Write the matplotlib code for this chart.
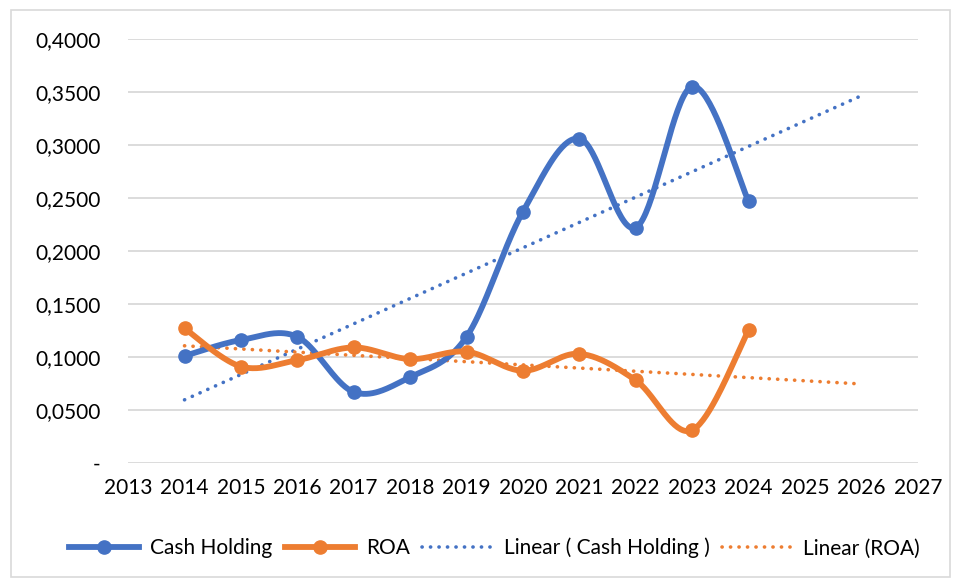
import numpy as np
import matplotlib.pyplot as plt
from matplotlib.lines import Line2D
from matplotlib.patches import Rectangle
from matplotlib.ticker import FuncFormatter

# dados
anos = [2014, 2015, 2016, 2017, 2018, 2019, 2020, 2021, 2022, 2023, 2024]
cash_holding = [0.101, 0.116, 0.119, 0.067, 0.081, 0.119, 0.237, 0.306, 0.222, 0.355, 0.247]
roa = [0.127, 0.091, 0.097, 0.109, 0.098, 0.105, 0.087, 0.103, 0.078, 0.031, 0.125]
ticks_x = list(range(2013, 2028))
ticks_y = [0, 0.05, 0.1, 0.15, 0.2, 0.25, 0.3, 0.35, 0.4]

AZUL = "#4472C4"
LARANJA = "#ED7D31"
FONTE = "Lato"
PONTILHADO = (0, (0.05, 2.3))


def suavizar(x, y, n=40):
    """Curva suavizada estilo Excel (Bezier / Catmull-Rom)."""
    x = np.asarray(x, float)
    y = np.asarray(y, float)
    px = np.concatenate([[x[0]], x, [x[-1]]])
    py = np.concatenate([[y[0]], y, [y[-1]]])
    xs, ys = [], []
    t = np.linspace(0, 1, n)
    for i in range(1, len(px) - 2):
        p0 = np.array([px[i], py[i]])
        p3 = np.array([px[i + 1], py[i + 1]])
        p1 = p0 + (np.array([px[i + 1], py[i + 1]]) - np.array([px[i - 1], py[i - 1]])) / 6
        p2 = p3 - (np.array([px[i + 2], py[i + 2]]) - np.array([px[i], py[i]])) / 6
        b = (np.outer((1 - t) ** 3, p0) + np.outer(3 * (1 - t) ** 2 * t, p1)
             + np.outer(3 * (1 - t) * t ** 2, p2) + np.outer(t ** 3, p3))
        xs.extend(b[:, 0])
        ys.extend(b[:, 1])
    return np.array(xs), np.array(ys)


def tendencia(x, y, extra=2):
    a, b = np.polyfit(x, y, 1)
    xt = np.array([x[0], x[-1] + extra])
    return xt, a * xt + b


plt.rcParams["font.family"] = [FONTE, "DejaVu Sans"]

fig = plt.figure(figsize=(9.56, 5.8), dpi=100)
ax = fig.add_axes([0.134, 0.2017, 0.826, 0.7313])

fig.patches.append(Rectangle((0.011, 0.005), 0.983, 0.977, transform=fig.transFigure,
                             fill=False, edgecolor="#D9D9D9", linewidth=1.2))

for serie, cor in [(cash_holding, AZUL), (roa, LARANJA)]:
    xs, ys = suavizar(anos, serie)
    ax.plot(xs, ys, color=cor, linewidth=4.2, solid_capstyle="round", zorder=3)
    ax.plot(anos, serie, "o", color=cor, markersize=9.5, zorder=4)
    xt, yt = tendencia(anos, serie)
    ax.plot(xt, yt, color=cor, linewidth=2.6, linestyle=PONTILHADO,
            dash_capstyle="round", zorder=2)

ax.set_xlim(2013, 2027)
ax.set_ylim(0, 0.4)
ax.set_xticks(ticks_x)
ax.set_yticks(ticks_y)
ax.yaxis.set_major_formatter(FuncFormatter(
    lambda v, p: "-" if abs(v) < 1e-9 else f"{v:.4f}".replace(".", ",")))
ax.grid(axis="y", color="#D9D9D9", linewidth=1.3)
ax.set_axisbelow(True)
for lado in ["top", "right", "left", "bottom"]:
    ax.spines[lado].set_visible(False)
ax.tick_params(length=0, labelsize=15, colors="black")
ax.tick_params(axis="y", pad=20)
ax.tick_params(axis="x", pad=11)

handles = [
    Line2D([], [], color=AZUL, linewidth=4.2, marker="o", markersize=9.5),
    Line2D([], [], color=LARANJA, linewidth=4.2, marker="o", markersize=9.5),
    Line2D([], [], color=AZUL, linewidth=2.6, linestyle=PONTILHADO, dash_capstyle="round"),
    Line2D([], [], color=LARANJA, linewidth=2.6, linestyle=PONTILHADO, dash_capstyle="round"),
]
rotulos = ["Cash Holding", "ROA", "Linear ( Cash Holding )", "Linear (ROA)"]
fig.legend(handles, rotulos, loc="center", bbox_to_anchor=(0.517, 0.055), ncol=4,
           frameon=False, fontsize=15, handlelength=3.4, columnspacing=0.6,
           handletextpad=0.5)

fig.savefig("out.png", dpi=100)
